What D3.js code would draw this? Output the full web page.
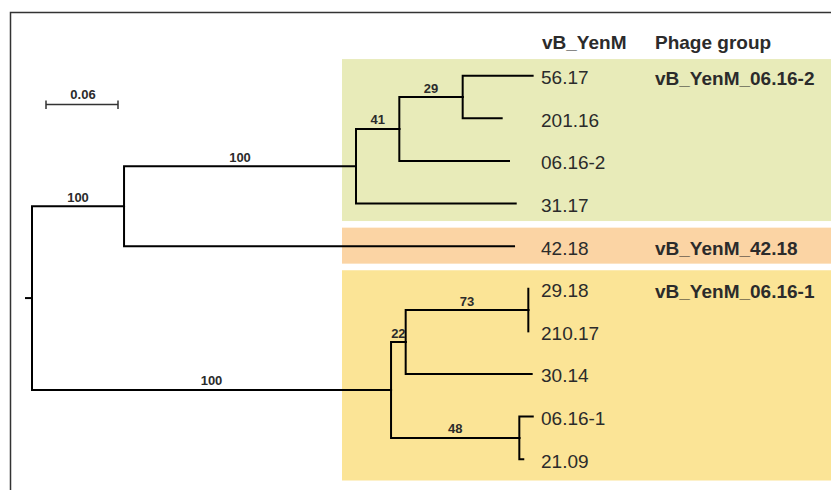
<!DOCTYPE html>
<html>
<head>
<meta charset="utf-8">
<script src="https://cdn.jsdelivr.net/npm/d3@7"></script>
<style>
  html, body { margin: 0; padding: 0; background: #fff; }
  svg { display: block; font-family: "Liberation Sans", Arial, Helvetica, sans-serif; }
</style>
</head>
<body>
<svg id="chart" width="831" height="490"></svg>
<script>
// ---- Data ----
const nodeIds = ["root","A","G","N41","N29","56.17","201.16","06.16-2","31.17","42.18",
                 "L","N22","N73","29.18","210.17","30.14","N48","06.16-1","21.09"];
const parentIds = ["","root","A","G","N41","N29","N29","N41","G","A",
                   "root","L","N22","N73","N73","N22","L","N48","N48"];
const branchLengths = [0,0.0767,0.1933,0.0361,0.0528,0.0583,0.0325,0.0914,0.1331,0.325,
                       0.2992,0.0122,0.1022,0,0,0.105,0.1069,0.0112,0.0033];
const supportValues = [null,100,100,41,29,null,null,null,null,null,
                       100,22,73,null,null,null,48,null,null];
const rootStubLength = 0.005;
const scaleBarValue = 0.06;

const headerLabels = ["vB_YenM", "Phage group"];
const groupNames = ["vB_YenM_06.16-2", "vB_YenM_42.18", "vB_YenM_06.16-1"];
const groupLeafFirst = ["56.17", "42.18", "29.18"];
const groupLeafLast = ["31.17", "42.18", "21.09"];
const groupColors = ["#e8ebb9", "#fbd4a4", "#fbe496"];

// ---- Build tree ----
const table = nodeIds.map((id, i) => ({id, parent: parentIds[i] || null, len: branchLengths[i], support: supportValues[i]}));
const root = d3.stratify().id(d => d.id).parentId(d => d.parent)(table);

// depth by branch length
root.eachBefore(n => { n.dist = n.parent ? n.parent.dist + n.data.len : 0; });
const leaves = root.leaves();
leaves.forEach((l, i) => l.idx = i);
root.eachAfter(n => { if (n.children) n.idx = d3.mean(n.children, c => c.idx); });

const x = d3.scaleLinear().domain([0, 0.42]).range([32, 536]);
const y = d3.scaleLinear().domain([0, leaves.length - 1]).range([75.7, 459.2]);

const svg = d3.select("#chart");
const textColor = "#2b2b2b";

// ---- Group boxes ----
const leafIndex = new Map(leaves.map(l => [l.id, l.idx]));
groupNames.forEach((g, i) => {
  const f = leafIndex.get(groupLeafFirst[i]);
  const l = leafIndex.get(groupLeafLast[i]);
  const top = i === 0 ? y(f - 0.39) : y(f - 0.5) + 2.8;
  const bottom = i === groupNames.length - 1 ? y(l + 0.5) : y(l + 0.5) - 3.8;
  svg.append("rect")
    .attr("x", 342).attr("y", top)
    .attr("width", 831 - 342).attr("height", bottom - top)
    .attr("fill", groupColors[i]);
  svg.append("text")
    .attr("x", 655).attr("y", y(f) + 9)
    .attr("font-size", 19).attr("font-weight", "bold")
    .attr("fill", textColor)
    .text(g);
});

// ---- Frame ----
svg.append("path")
  .attr("d", "M10.5,490V12.5H831")
  .attr("fill", "none").attr("stroke", "#333").attr("stroke-width", 1.5);

// ---- Branches ----
const g = svg.append("g").attr("fill", "none").attr("stroke", "#000").attr("stroke-width", 2).attr("stroke-linecap", "square");
root.descendants().filter(n => n.parent).forEach(n => {
  const px = x(n.parent.dist), py = y(n.parent.idx);
  const cx = x(n.dist), cy = y(n.idx);
  g.append("path").attr("d", `M${px},${py}V${cy}H${cx}`);
});
// root stub
g.append("path").attr("d", `M${x(-rootStubLength)},${y(root.idx)}H${x(0)}`);

// ---- Support labels ----
root.descendants().filter(n => n.parent && n.data.support != null).forEach(n => {
  const px = x(n.parent.dist), cx = x(n.dist);
  svg.append("text")
    .attr("x", (px + cx) / 2).attr("y", y(n.idx) - 4.5)
    .attr("text-anchor", "middle")
    .attr("font-size", 13).attr("font-weight", "bold")
    .attr("fill", textColor)
    .text(n.data.support);
});

// ---- Leaf labels ----
leaves.forEach(l => {
  svg.append("text")
    .attr("x", 541).attr("y", y(l.idx) + 8.5)
    .attr("font-size", 19)
    .attr("fill", textColor)
    .text(l.id);
});

// ---- Headers ----
svg.append("text").attr("x", 542).attr("y", 49).attr("font-size", 19).attr("font-weight", "bold").attr("fill", textColor).text(headerLabels[0]);
svg.append("text").attr("x", 655).attr("y", 49).attr("font-size", 19).attr("font-weight", "bold").attr("fill", textColor).text(headerLabels[1]);

// ---- Scale bar ----
const sb0 = 46, sb1 = sb0 + (x(scaleBarValue) - x(0)), sbY = 104.5;
const sb = svg.append("g").attr("stroke", "#333").attr("stroke-width", 1.5).attr("fill", "none");
sb.append("path").attr("d", `M${sb0},${sbY}H${sb1}M${sb0},${sbY - 4}V${sbY + 4.5}M${sb1},${sbY - 4}V${sbY + 4.5}`);
svg.append("text")
  .attr("x", (sb0 + sb1) / 2 + 1).attr("y", 99)
  .attr("text-anchor", "middle")
  .attr("font-size", 13).attr("font-weight", "bold")
  .attr("fill", textColor)
  .text(String(scaleBarValue));
</script>
</body>
</html>
